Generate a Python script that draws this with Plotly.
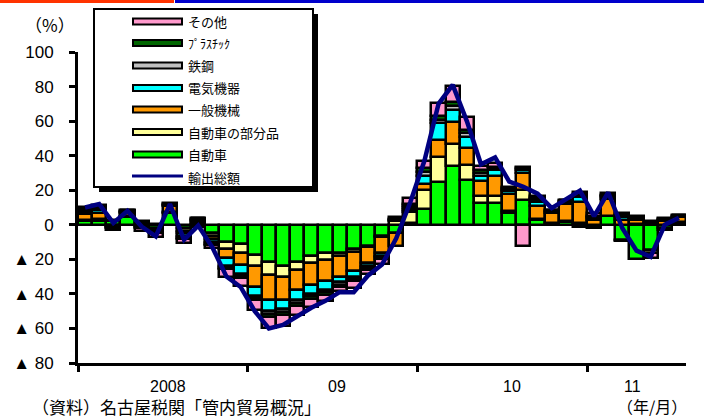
import plotly.graph_objects as go

# ---------------- data ----------------
months = [
    "2008/01", "2008/02", "2008/03", "2008/04", "2008/05", "2008/06",
    "2008/07", "2008/08", "2008/09", "2008/10", "2008/11", "2008/12",
    "2009/01", "2009/02", "2009/03", "2009/04", "2009/05", "2009/06",
    "2009/07", "2009/08", "2009/09", "2009/10", "2009/11", "2009/12",
    "2010/01", "2010/02", "2010/03", "2010/04", "2010/05", "2010/06",
    "2010/07", "2010/08", "2010/09", "2010/10", "2010/11", "2010/12",
    "2011/01", "2011/02", "2011/03", "2011/04", "2011/05", "2011/06",
    "2011/07",
]

car = [2, 2, 2, 4.5, 1, -2, 7, -2, -1.5, -5, -10.2, -11,
       -17.3, -21.6, -24, -21.6, -18.3, -16.4, -16.4, -14, -12, -6.5, -5, 1,
       9, 24.5, 34, 26, 12.5, 12.5, 6.7, 14.5, 2.9, 1, 1.9, 1.3,
       -1.5, 4.8, -8.7, -19.8, -14.5, -2, 1.3]
parts = [1, 1.5, -0.5, 0.5, -0.5, -1, 0.5, -1.5, 1, -1.5, -3.9, -5.4,
         -6.7, -7.3, -6.2, -4.8, -3.9, -3.9, -1.9, -1.5, -1, -0.8, 2, 6.2,
         11.2, 14.6, 12.5, 8.7, 3.9, 3.9, 1.5, 5.8, 0.5, 0.3, 0.3, -1.3,
         -0.5, 0.5, -0.5, 0.3, -2, -1, 0.5]
machinery = [3, 3.5, 1, 2, 1, 0.5, 3.5, -1.5, 1, -2, -5.4, -6.9,
             -12, -14.5, -13.1, -11.6, -12.5, -12.5, -12, -11.5, -9, -9, -7, 1.2,
             3.5, 10, 13, 9.6, 8.7, 11.6, 9.6, 9.6, 7.7, 5.8, 9.6, 11.6,
             3, 9.6, 3, 2.5, 1.2, 2, 2.5]
electric = [1.5, 1.5, -0.5, 0.5, -0.5, -1, 0.5, -1.5, 0.5, -1.5, -4.6, -5,
            -5.4, -6.7, -5.4, -5.4, -5.2, -4.8, -3.1, -3.5, -2, -1.5, 0.5, 1.3,
            4.6, 9.6, 7, 6.7, 2.9, 3.9, 1.9, 1.9, 2, 0.7, 1.5, 2.9,
            1, 1, 1.5, 0.8, 0.3, 0.5, 0.5]
steel = [1, 1, -0.5, 0.5, -0.5, -0.5, 0.3, -1, 0.7, -1, -0.8, -1.3,
         -1.2, -1.8, -1.7, -1.8, -1.5, -1.5, -1.4, -1, -1.2, -1, 0.5, 1.3,
         2.4, 2.2, 2.4, 2, 1.8, 0.8, 0.7, 0.8, 1.2, 0.3, 0.5, 1,
         0.7, 0.8, 0.8, 0.5, 0.3, 0.5, 0.4]
plastic = [0.5, 1, -0.5, 0.3, -0.5, -0.5, 0.3, -1, 0.5, -0.7, -0.7, -1.2,
           -1.1, -1.7, -1.6, -1.7, -1.4, -1.4, -1.3, -1, -1, -1, 0.5, 1.2,
           2, 2, 2, 1.9, 1.7, 0.7, 0.6, 0.7, 1, 0.3, 0.4, 0.8,
           0.5, 0.6, 0.5, 0.5, 0.2, 0.5, 0.3]
other = [1.5, 1, -1, 0.5, -1.5, -2, 0.5, -2, 0.5, -2, -4.6, -4.4,
         -5.4, -6.2, -6.4, -5.2, -4.8, -3.9, -2.5, -4, -2.5, -3, 1, 3.3,
         4.4, 7.7, 9.6, 7.3, 2.7, 2.3, 1, -12.5, 1.5, 0.3, 0.3, 1.5,
         1.5, 1, 1, 0.5, -2.9, 0.4, 0.3]
total = [10, 12, 1, 8, -1, -6.7, 12, -8.7, -0.5, -13, -30, -36,
         -50, -60, -58, -53, -48, -44, -39, -39, -29.5, -23, -8, 13,
         37, 70, 81, 60, 35, 39, 25, 22, 18, 9.6, 14.5, 19.8,
         5, 18.7, -2, -15, -18.5, 0, 4]

series_names = ["自動車", "自動車の部分品", "一般機械", "電気機器", "鉄鋼", "ﾌﾟﾗｽﾁｯｸ", "その他"]
series_values = [car, parts, machinery, electric, steel, plastic, other]
series_colors = ["#00FF00", "#FFFF99", "#FF9900", "#00FFFF", "#C0C0C0", "#006600", "#FF99CC"]
total_name = "輸出総額"
total_color = "#000080"

y_tickvals = [-80, -60, -40, -20, 0, 20, 40, 60, 80, 100]
y_ticktext = ["▲ 80", "▲ 60", "▲ 40", "▲ 20", "0", "20", "40", "60", "80", "100"]
year_labels = ["2008", "09", "10", "11"]
year_label_pos = [5.9, 17.8, 30.2, 38.7]
year_boundaries = [-0.5, 11.5, 23.5, 35.5]

# ---------------- layout geometry ----------------
W, H = 704, 419
L, R, T, B = 78, 18, 52, 56
PW, PH = W - L - R, H - T - B


def px_x(px):
    return (px - L) / PW


def px_y(py):
    return (H - B - py) / PH


JP = "Noto Sans CJK JP"
NUM = "Liberation Sans, Noto Sans CJK JP"

x_idx = list(range(len(months)))

fig = go.Figure()
for name, vals, col in zip(series_names, series_values, series_colors):
    fig.add_trace(go.Bar(
        x=x_idx, y=vals, name=name, width=1.0,
        marker=dict(color=col, line=dict(color="black", width=2.5)),
        customdata=months, hovertemplate="%{customdata}: %{y}<extra>" + name + "</extra>",
        showlegend=False,
    ))
fig.add_trace(go.Scatter(
    x=x_idx, y=total, name=total_name, mode="lines",
    line=dict(color=total_color, width=4.5),
    customdata=months, hovertemplate="%{customdata}: %{y}<extra>" + total_name + "</extra>",
    showlegend=False,
))

shapes = []
annotations = []

# top coloured stripe
shapes.append(dict(type="rect", xref="paper", yref="paper", x0=px_x(0), x1=px_x(174),
                   y0=px_y(3), y1=px_y(0), fillcolor="#FF3300", line=dict(width=0), layer="above"))
shapes.append(dict(type="rect", xref="paper", yref="paper", x0=px_x(175), x1=px_x(704),
                   y0=px_y(3), y1=px_y(0), fillcolor="#0000CC", line=dict(width=0), layer="above"))

# manual legend box with shadow
shapes.append(dict(type="rect", xref="paper", yref="paper", x0=px_x(99), x1=px_x(318),
                   y0=px_y(192), y1=px_y(14), fillcolor="black", line=dict(width=0), layer="above"))
shapes.append(dict(type="rect", xref="paper", yref="paper", x0=px_x(94), x1=px_x(313),
                   y0=px_y(187), y1=px_y(9), fillcolor="white", line=dict(color="black", width=2),
                   layer="above"))
row_y = [21.5, 43, 65.5, 88, 109.5, 132, 154.5]
leg_items = list(zip(series_names, series_colors))[::-1]
for (name, col), ry in zip(leg_items, row_y):
    shapes.append(dict(type="rect", xref="paper", yref="paper", x0=px_x(133), x1=px_x(182),
                       y0=px_y(ry + 3), y1=px_y(ry - 3), fillcolor=col,
                       line=dict(color="black", width=2), layer="above"))
    fs = 12 if name == "ﾌﾟﾗｽﾁｯｸ" else 13
    annotations.append(dict(text=name, xref="paper", yref="paper", x=px_x(186), y=px_y(ry),
                            xanchor="left", yanchor="middle", showarrow=False,
                            font=dict(family=JP, size=fs, color="black")))
shapes.append(dict(type="line", xref="paper", yref="paper", x0=px_x(132), x1=px_x(183),
                   y0=px_y(176), y1=px_y(176), line=dict(color=total_color, width=3), layer="above"))
annotations.append(dict(text=total_name, xref="paper", yref="paper", x=px_x(186), y=px_y(177),
                        xanchor="left", yanchor="middle", showarrow=False,
                        font=dict(family=JP, size=13, color="black")))

# year labels
for lab, pos in zip(year_labels, year_label_pos):
    annotations.append(dict(text=lab, xref="x", yref="paper", x=pos, y=px_y(386),
                            xanchor="center", yanchor="middle", showarrow=False,
                            font=dict(family=NUM, size=16, color="black")))

annotations.append(dict(text="（%）", xref="paper", yref="paper", x=px_x(50), y=px_y(25),
                        xanchor="center", yanchor="middle", showarrow=False,
                        font=dict(family=JP, size=17, color="black")))
annotations.append(dict(text="（資料）名古屋税関「管内貿易概況」", xref="paper", yref="paper",
                        x=px_x(30), y=px_y(406), xanchor="left", yanchor="middle", showarrow=False,
                        font=dict(family=JP, size=17, color="black")))
annotations.append(dict(text="（年/月）", xref="paper", yref="paper",
                        x=px_x(652), y=px_y(406), xanchor="center", yanchor="middle", showarrow=False,
                        font=dict(family=JP, size=16, color="black")))

fig.update_layout(
    width=W, height=H,
    margin=dict(l=L, r=R, t=T, b=B, pad=0),
    paper_bgcolor="white", plot_bgcolor="white",
    barmode="relative", bargap=0,
    showlegend=False,
    shapes=shapes, annotations=annotations,
    font=dict(family=NUM, size=16, color="black"),
    xaxis=dict(range=[-0.5, len(months) - 0.5], showgrid=False, zeroline=False,
               showline=True, linecolor="black", linewidth=3,
               tickmode="array", tickvals=year_boundaries, ticktext=["" for _ in year_boundaries],
               ticks="outside", ticklen=6, tickwidth=2.5, tickcolor="black"),
    yaxis=dict(range=[-80, 100], showgrid=False, zeroline=False,
               showline=True, linecolor="black", linewidth=3,
               tickmode="array", tickvals=y_tickvals, ticktext=y_ticktext,
               ticks="outside", ticklen=6, tickwidth=2.5, tickcolor="black",
               ticklabelstandoff=12,
               tickfont=dict(family=NUM, size=17, color="black")),
)

fig.write_html("out.html")
